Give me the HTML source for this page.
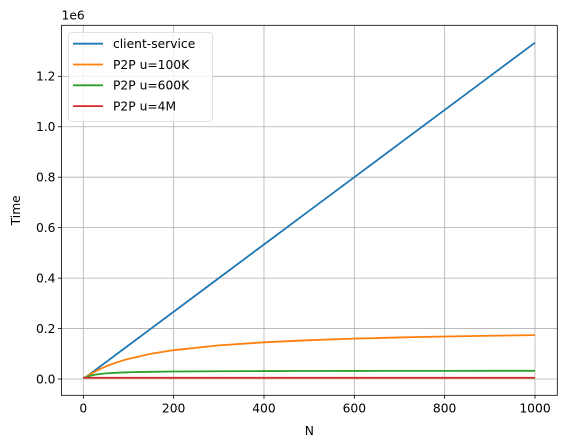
<!DOCTYPE html>
<html><head><meta charset="utf-8"><style>
body{margin:0;background:#fff}
svg{font-family:"DejaVu Sans","Liberation Sans",sans-serif;display:block}
</style></head><body>
<svg id="chart" width="567" height="448" viewBox="0 0 567 448"></svg>
<script>
const nValues=[0,5,10,15,25,35,50,75,100,150,200,300,400,500,600,700,800,900,1000];
const clientServer=[5000,6667,13333,20000,33333,46667,66667,100000,133333,200000,266667,400000,533333,666667,800000,933333,1066667,1200000,1333333];
const p2p100K=[5000,6452,12500,18182,28571,37838,50000,66667,80000,100000,114286,133333,145455,153846,160000,164706,168421,171429,173913];
const p2p600K=[5000,5556,9524,12500,16667,19444,22222,25000,26667,28571,29630,30769,31373,31746,32000,32184,32323,32432,32520];
const p2p4M=[5000,5000,5000,5000,5000,5000,5000,5000,5000,5000,5000,5000,5000,5000,5000,5000,5000,5000,5000];
const xTicks=[0,200,400,600,800,1000];
const yTicks=[0,0.2,0.4,0.6,0.8,1.0,1.2];
const seriesNames=["client-service","P2P u=100K","P2P u=600K","P2P u=4M"];
const seriesColors=["#1f77b4","#ff7f0e","#2ca02c","#d62728"];
const L=61.5,R=557.3,T=25.3,B=395.3;
const xs=v=>83.3+(v-0)*(535-83.3)/1000;
const ys=v=>379-v/1e6*(379-76.3)/1.2;
const svg=document.getElementById('chart');
const NS='http://www.w3.org/2000/svg';
function mk(tag,attrs,parent){const e=document.createElementNS(NS,tag);for(const k in attrs)e.setAttribute(k,attrs[k]);(parent||svg).appendChild(e);return e;}
xTicks.forEach(t=>{const x=xs(t);
 const g=mk('line',{x1:x,x2:x,y1:T,y2:B,stroke:'#b0b0b0','stroke-width':0.8});
 
 mk('line',{x1:x,x2:x,y1:B,y2:B+3.5,stroke:'#000','stroke-width':0.8});
 const tx=mk('text',{x:x,y:B+17,'font-size':12.3,'text-anchor':'middle',fill:'#000'});tx.textContent=String(t);
 
});
yTicks.forEach(t=>{const y=ys(t*1e6);
 const g=mk('line',{x1:L,x2:R,y1:y,y2:y,stroke:'#b0b0b0','stroke-width':0.8});
 
 mk('line',{x1:L-3.5,x2:L,y1:y,y2:y,stroke:'#000','stroke-width':0.8});
 const tx=mk('text',{x:L-6,y:y+4.3,'font-size':12.3,'text-anchor':'end',fill:'#000'});tx.textContent=t.toFixed(1);
 
});
const allSeries=[clientServer,p2p100K,p2p600K,p2p4M];
allSeries.forEach((s,i)=>{
 const p=mk('polyline',{points:s.map((v,j)=>xs(nValues[j])+','+ys(v)).join(' '),fill:'none',stroke:seriesColors[i],'stroke-width':1.8,'stroke-linejoin':'round'});
 
});
const frame=mk('rect',{x:L,y:T,width:R-L,height:B-T,fill:'none',stroke:'#000','stroke-width':0.8});

const off=mk('text',{x:L,y:T-6,'font-size':12.3,fill:'#000'});off.textContent='1e6';

const xl=mk('text',{x:(L+R)/2,y:435,'font-size':12.3,'text-anchor':'middle',fill:'#000'});xl.textContent='N';

const yl=mk('text',{x:0,y:0,'font-size':12.3,'text-anchor':'middle',fill:'#000',transform:'translate(20,'+((T+B)/2)+') rotate(-90)'});yl.textContent='Time';

const lg=mk('rect',{x:68.5,y:32.5,width:144,height:89,rx:3,fill:'#fff','fill-opacity':0.8,stroke:'#d9d9d9','stroke-width':0.8});

seriesNames.forEach((n,i)=>{const y=43.7+i*20.8;
 const ln=mk('line',{x1:73,x2:103,y1:y,y2:y,stroke:seriesColors[i],'stroke-width':1.8});
 
 const tx=mk('text',{x:113,y:y+4.3,'font-size':12.3,fill:'#000'});tx.textContent=n;
 
});
</script>
</body></html>
